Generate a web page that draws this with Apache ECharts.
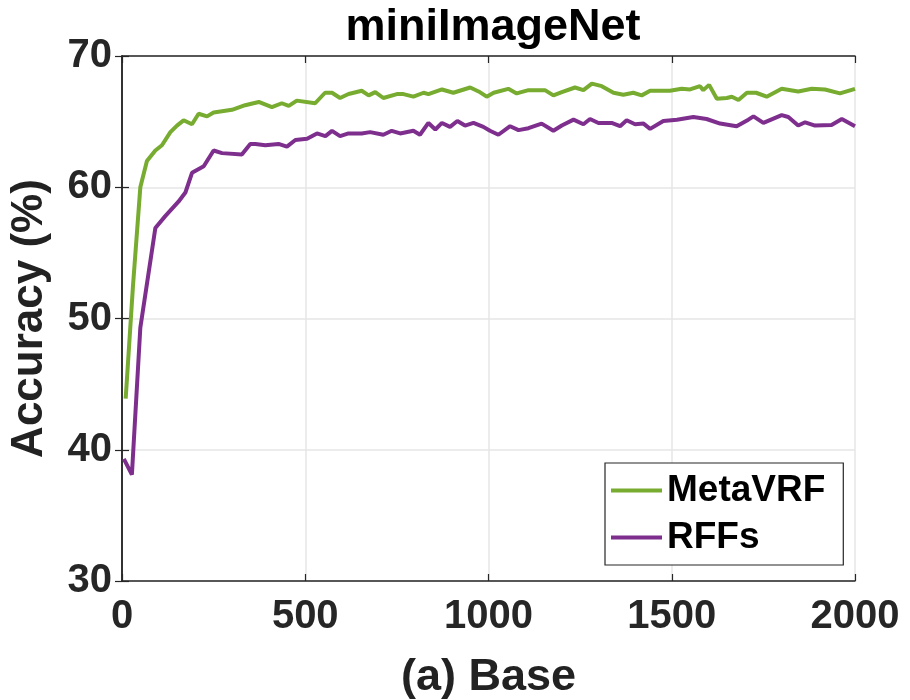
<!DOCTYPE html>
<html>
<head>
<meta charset="utf-8">
<script src="https://cdn.jsdelivr.net/npm/echarts@6/dist/echarts.min.js"></script>
<style>
  html, body { margin: 0; padding: 0; background: #fff; }
  #accuracyChart { width: 910px; height: 700px; }
</style>
</head>
<body>
<div id="accuracyChart"></div>
<script>
// iterations / accuracy
const metaVrfIters = [10, 30, 50, 68, 91, 109, 132, 150, 168, 191, 209, 232, 250, 300, 336, 373, 409, 436, 455, 477,
  527, 554, 573, 595, 618, 654, 673, 691, 713, 750, 768, 795, 823, 836, 873, 904, 950, 973, 995, 1014,
  1054, 1077, 1109, 1154, 1177, 1200, 1236, 1259, 1282, 1309, 1341, 1368, 1395, 1418, 1441, 1495, 1527, 1550, 1577, 1586,
  1602, 1623, 1650, 1664, 1682, 1705, 1730, 1759, 1800, 1845, 1882, 1918, 1959, 2000];
const metaVrfAcc = [43.9, 52.5, 60.0, 62.0, 62.8, 63.2, 64.2, 64.7, 65.1, 64.8, 65.6, 65.4, 65.7, 65.9, 66.25, 66.5, 66.1, 66.4, 66.2, 66.6,
  66.4, 67.2, 67.2, 66.8, 67.1, 67.35, 67.0, 67.25, 66.8, 67.1, 67.1, 66.9, 67.2, 67.1, 67.45, 67.2, 67.6, 67.3, 66.9, 67.2,
  67.5, 67.15, 67.4, 67.4, 67.0, 67.25, 67.6, 67.4, 67.9, 67.7, 67.2, 67.05, 67.2, 67.0, 67.35, 67.35, 67.5, 67.45, 67.7, 67.4,
  67.8, 66.75, 66.8, 66.9, 66.65, 67.2, 67.2, 66.9, 67.5, 67.3, 67.5, 67.45, 67.15, 67.5];

const rffIters = [5, 27, 50, 70, 91, 118, 154, 173, 191, 223, 250, 273, 327, 350, 364, 391, 427, 450, 473, 505,
  532, 555, 573, 595, 618, 654, 677, 713, 736, 759, 795, 813, 836, 855, 873, 895, 915, 936, 959, 986,
  1004, 1027, 1059, 1082, 1109, 1145, 1177, 1200, 1232, 1259, 1277, 1300, 1336, 1359, 1377, 1400, 1423, 1441, 1477, 1514,
  1559, 1595, 1632, 1677, 1709, 1723, 1750, 1800, 1818, 1845, 1864, 1891, 1936, 1964, 2000];
const rffAcc = [39.3, 38.1, 49.3, 53.0, 56.9, 57.8, 58.9, 59.6, 61.1, 61.6, 62.8, 62.6, 62.5, 63.3, 63.3, 63.2, 63.3, 63.1, 63.6, 63.7,
  64.1, 63.9, 64.3, 63.9, 64.1, 64.1, 64.2, 64.0, 64.3, 64.1, 64.3, 64.0, 64.9, 64.4, 64.9, 64.6, 65.05, 64.7, 64.9, 64.6,
  64.3, 64.0, 64.65, 64.35, 64.5, 64.85, 64.3, 64.7, 65.15, 64.8, 65.2, 64.9, 64.9, 64.65, 65.1, 64.8, 64.85, 64.45, 65.05, 65.15,
  65.35, 65.2, 64.85, 64.65, 65.15, 65.4, 64.9, 65.5, 65.35, 64.7, 64.95, 64.7, 64.75, 65.2, 64.65];

const seriesNames = ["MetaVRF", "RFFs"];
const seriesColors = ["#77AC30", "#7E2F8E"];

const FONT = "'Liberation Sans', Arial, Helvetica, sans-serif";

function pairs(xs, ys) {
  return xs.map((x, i) => [x, ys[i]]);
}

var chartDom = document.getElementById("accuracyChart");
var myChart = echarts.init(chartDom, null, { renderer: "canvas" });

var boxLine = { show: true, lineStyle: { color: "#262626", width: 1.5 } };
var tickIn = { show: true, inside: true, length: 7, lineStyle: { color: "#262626", width: 1.2 } };

var option = {
  animation: false,
  backgroundColor: "#fff",
  title: {
    text: "miniImageNet",
    left: 488,
    textAlign: "center",
    top: 0,
    textStyle: { fontFamily: FONT, fontWeight: "bold", fontSize: 45, color: "#000" },
  },
  legend: {
    orient: "vertical",
    left: 605,
    top: 463,
    width: 238,
    padding: [9, 18, 9, 6],
    itemGap: 10,
    itemWidth: 51,
    itemHeight: 4,
    borderColor: "#262626",
    borderWidth: 1.2,
    backgroundColor: "#fff",
    data: [
      { name: seriesNames[0], icon: "rect" },
      { name: seriesNames[1], icon: "rect" },
    ],
    textStyle: { fontFamily: FONT, fontWeight: "bold", fontSize: 37, color: "#000" },
  },
  grid: { left: 122, right: 55, top: 56, bottom: 119, containLabel: false, outerBoundsMode: "none" },
  xAxis: [
    {
      type: "value",
      min: 0,
      max: 2000,
      interval: 500,
      name: "(a) Base",
      nameLocation: "middle",
      nameGap: 74,
      nameTextStyle: { fontFamily: FONT, fontWeight: "bold", fontSize: 45, color: "#222" },
      axisLine: boxLine,
      axisTick: tickIn,
      axisLabel: {
        margin: 16,
        fontFamily: FONT,
        fontWeight: "bold",
        fontSize: 40,
        color: "#262626",
        formatter: (v) => String(v),
      },
      splitLine: { show: true, lineStyle: { color: "#e6e6e6", width: 1.5 } },
    },
    {
      type: "value",
      position: "top",
      min: 0,
      max: 2000,
      interval: 500,
      axisLine: boxLine,
      axisTick: tickIn,
      axisLabel: { show: false },
      splitLine: { show: false },
    },
  ],
  yAxis: [
    {
      type: "value",
      min: 30,
      max: 70,
      interval: 10,
      name: "Accuracy (%)",
      nameLocation: "middle",
      nameGap: 70,
      nameTextStyle: { fontFamily: FONT, fontWeight: "bold", fontSize: 44, color: "#222" },
      axisLine: boxLine,
      axisTick: tickIn,
      axisLabel: { margin: 10, fontFamily: FONT, fontWeight: "bold", fontSize: 40, color: "#262626" },
      splitLine: { show: true, lineStyle: { color: "#e6e6e6", width: 1.5 } },
    },
    {
      type: "value",
      position: "right",
      min: 30,
      max: 70,
      interval: 10,
      axisLine: boxLine,
      axisTick: tickIn,
      axisLabel: { show: false },
      splitLine: { show: false },
    },
  ],
  series: [
    {
      name: seriesNames[0],
      type: "line",
      data: pairs(metaVrfIters, metaVrfAcc),
      showSymbol: false,
      symbol: "none",
      color: seriesColors[0],
      lineStyle: { color: seriesColors[0], width: 4 },
      z: 3,
    },
    {
      name: seriesNames[1],
      type: "line",
      data: pairs(rffIters, rffAcc),
      showSymbol: false,
      symbol: "none",
      color: seriesColors[1],
      lineStyle: { color: seriesColors[1], width: 4 },
      z: 2,
    },
  ],
};
myChart.setOption(option);
</script>
</body>
</html>
